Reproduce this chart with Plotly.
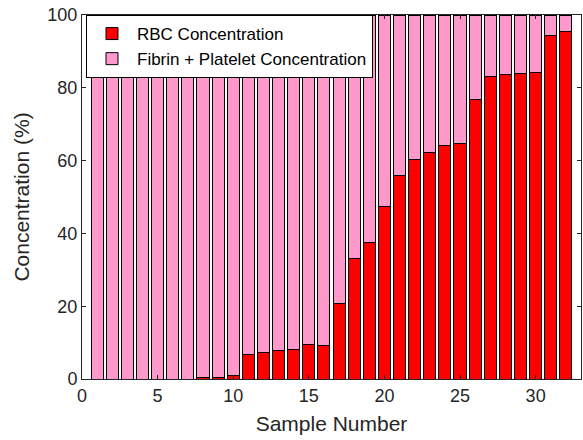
import plotly.graph_objects as go

samples = list(range(1, 33))
rbc = [0, 0, 0, 0, 0, 0, 0, 0.35, 0.35, 1.0,
       6.8, 7.4, 7.7, 8.0, 9.4, 9.3, 20.8, 33.2, 37.4, 47.5,
       56.0, 60.4, 62.2, 64.1, 64.7, 76.9, 83.2, 83.6, 84.0, 84.3,
       94.4, 95.6]
fibrin = [round(100 - v, 2) for v in rbc]

font_family = "Liberation Sans, Arial, sans-serif"
axis_color = "#262626"

fig = go.Figure()
fig.add_trace(go.Bar(x=samples, y=rbc, name="RBC Concentration",
                     marker=dict(color="#FF0000", line=dict(color="black", width=1)),
                     width=0.8))
fig.add_trace(go.Bar(x=samples, y=fibrin, name="Fibrin + Platelet Concentration",
                     marker=dict(color="#FF99CC", line=dict(color="black", width=1)),
                     width=0.8))

fig.update_layout(
    width=583, height=440,
    barmode="stack",
    plot_bgcolor="white", paper_bgcolor="white",
    margin=dict(l=82, r=2, t=15, b=61),
    font=dict(family=font_family, color=axis_color),
    legend=dict(x=0.008, y=1, xanchor="left", yanchor="top",
                bgcolor="white", bordercolor="black", borderwidth=1,
                font=dict(size=17, color="#000000"),
                traceorder="normal", tracegroupgap=0, itemwidth=40),
    showlegend=True,
)
fig.update_xaxes(range=[0, 33], tickvals=[0, 5, 10, 15, 20, 25, 30],
                 ticks="inside", ticklen=4, tickcolor="#262626",
                 showline=True, linecolor="#262626", linewidth=1, mirror="ticks",
                 showgrid=False, zeroline=False,
                 tickfont=dict(size=18, color=axis_color),
                 title=dict(text="Sample Number", font=dict(size=21, color=axis_color), standoff=11))
fig.update_yaxes(range=[0, 100], tickvals=[0, 20, 40, 60, 80, 100],
                 ticks="inside", ticklen=4, tickcolor="#262626",
                 showline=True, linecolor="#262626", linewidth=1, mirror="ticks",
                 showgrid=False, zeroline=False,
                 tickfont=dict(size=18, color=axis_color),
                 title=dict(text="Concentration (%)", font=dict(size=21, color=axis_color), standoff=12))

fig.write_html("out.html")
